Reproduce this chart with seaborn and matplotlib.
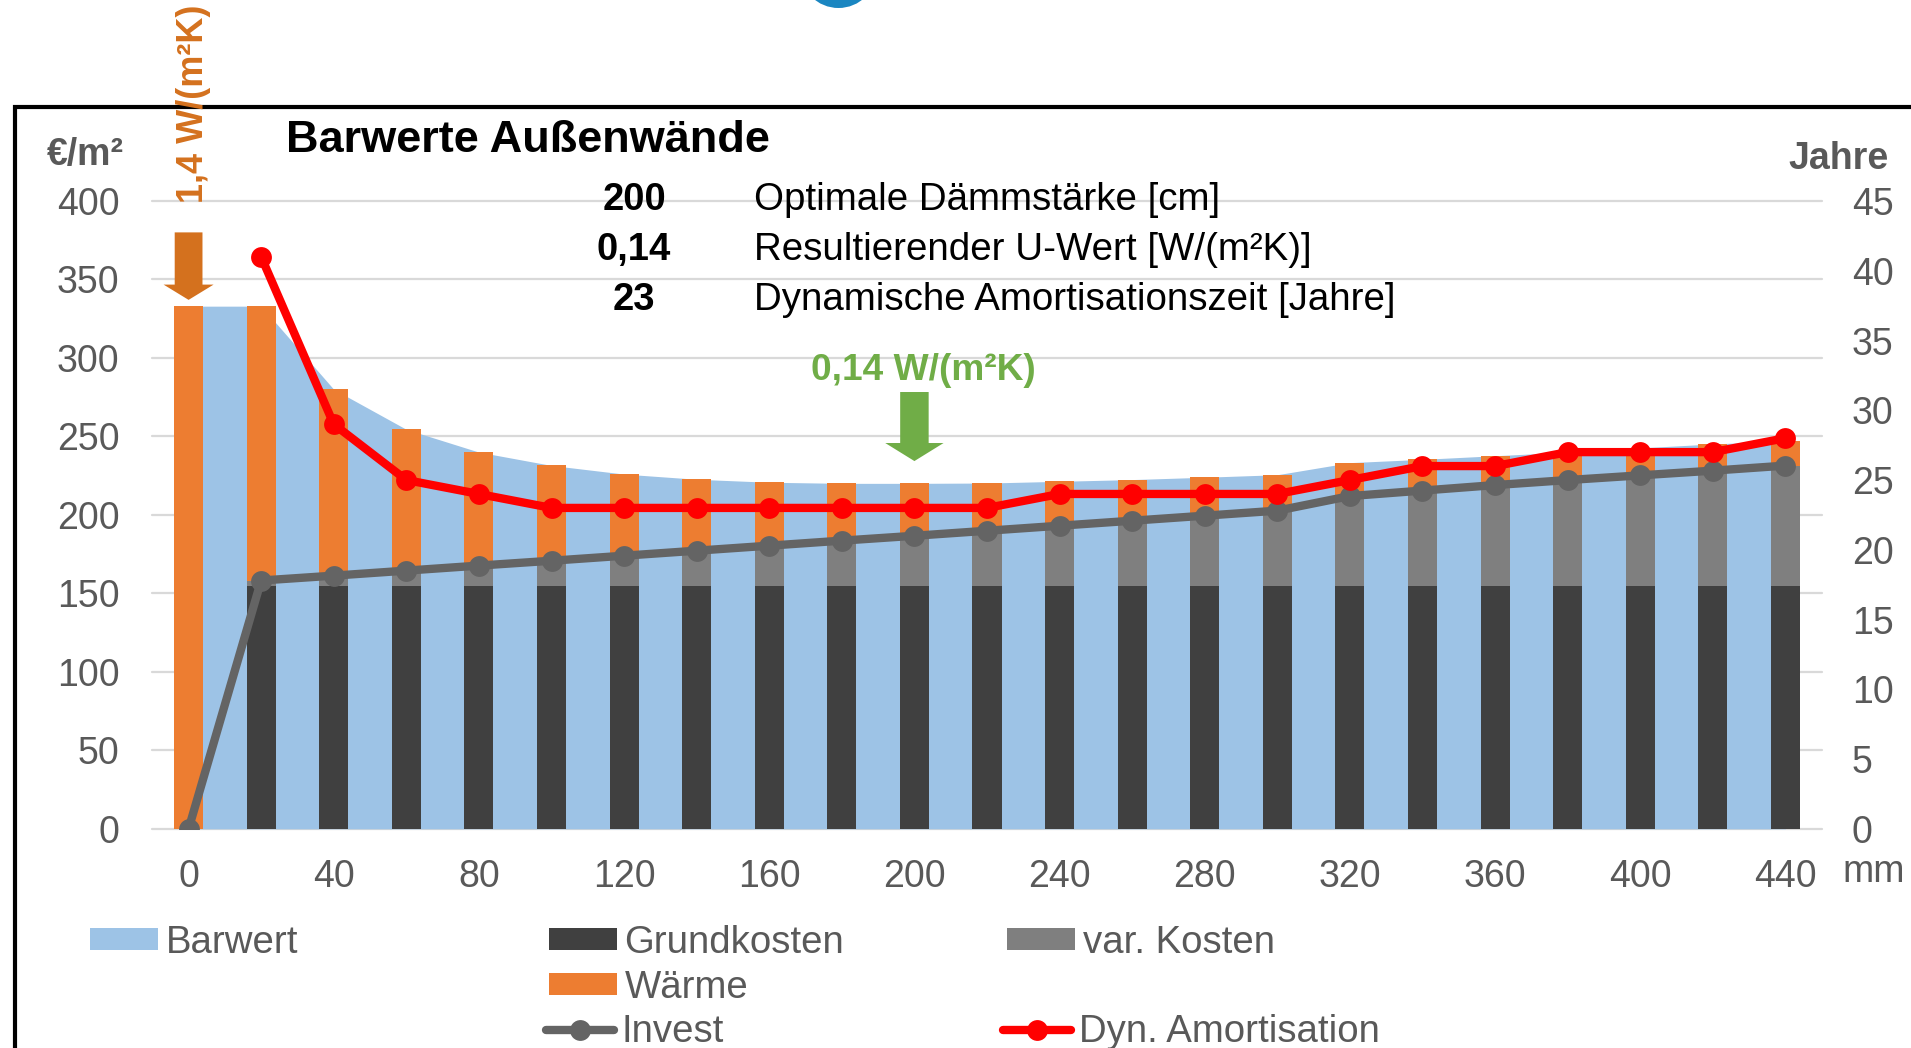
import numpy as np
import matplotlib
matplotlib.use("Agg")
import matplotlib.pyplot as plt
import seaborn as sns
from matplotlib.patches import Patch, Rectangle, Ellipse
from matplotlib.lines import Line2D

# Dämmstärke in mm
mm = [0, 20, 40, 60, 80, 100, 120, 140, 160, 180, 200, 220,
      240, 260, 280, 300, 320, 340, 360, 380, 400, 420, 440]
# Barwert = Grundkosten + var. Kosten + Wärme  [€/m²]
barwert = [333, 333, 280, 254.5, 240, 231.5, 226, 222.7, 220.8, 220.1, 220.1, 220.3,
           221.4, 222.5, 224, 225.6, 233.3, 235.4, 237.7, 240, 242.7, 245.2, 247.1]
# Invest = Grundkosten + var. Kosten  [€/m²]
invest = [0, 158.2, 161.3, 164.5, 167.7, 170.8, 174, 177.2, 180.4, 183.6, 186.7, 189.9,
          193.1, 196.3, 199.5, 202.7, 212, 215.5, 219, 222.2, 225.2, 228.2, 231.4]
grundkosten = [0] + [155] * 22
# dyn. Amortisation [Jahre], ab 20 mm
amort_mm = mm[1:]
amort = [41, 29, 25, 24, 23, 23, 23, 23, 23, 23, 23,
         24, 24, 24, 24, 25, 26, 26, 27, 27, 27, 28]

info_values = ["200", "0,14", "23"]
info_labels = ["Optimale Dämmstärke [cm]", "Resultierender U-Wert [W/(m²K)]",
               "Dynamische Amortisationszeit [Jahre]"]

c_blue = "#9DC3E6"
c_orange = "#ED7D31"
c_dark = "#404040"
c_var = "#7F7F7F"
c_invest = "#646464"
c_red = "#FF0000"
c_green = "#70AD47"
c_arrow_or = "#D4711E"
c_text = "#595959"

sns.set_style("white")
plt.rcParams["font.family"] = ["Liberation Sans", "DejaVu Sans"]

W, H = 1911, 1048
fig = plt.figure(figsize=(W / 100, H / 100), dpi=100)


def fx(x):
    return x / W


def fy(y):
    return 1 - y / H


ax = fig.add_axes([fx(152.3), fy(828.8), (1821.7 - 152.3) / W, (828.8 - 201) / H])
pos = np.arange(len(mm))

ax.fill_between(pos, barwert, color=c_blue, lw=0, zorder=1)
sns.barplot(x=mm, y=barwert, color=c_orange, width=0.4, saturation=1,
            errorbar=None, linewidth=0, ax=ax, zorder=2)
sns.barplot(x=mm, y=invest, color=c_var, width=0.4, saturation=1,
            errorbar=None, linewidth=0, ax=ax, zorder=2)
sns.barplot(x=mm, y=grundkosten, color=c_dark, width=0.4, saturation=1,
            errorbar=None, linewidth=0, ax=ax, zorder=2)
sns.lineplot(x=pos, y=invest, color=c_invest, linewidth=6, marker="o", markersize=15,
             markeredgewidth=0, ax=ax, zorder=3, legend=False)

ax.set_xlim(-0.5, 22.5)
ax.set_ylim(0, 400)
ax.set_yticks(range(0, 401, 50))
ax.set_xticks(pos[::2])
ax.set_xticklabels([str(m) for m in mm[::2]])
ax.set_xlabel("")
ax.set_ylabel("")
ax.grid(axis="y", color="#D9D9D9", lw=1.6)
ax.grid(axis="x", visible=False)
ax.set_axisbelow(True)
for gl in ax.get_ygridlines():
    gl.set_clip_on(False)
for s in ax.spines.values():
    s.set_visible(False)
ax.tick_params(axis="x", length=0, pad=22, labelsize=27, labelcolor=c_text)
ax.tick_params(axis="y", length=0, pad=23.5, labelsize=27, labelcolor=c_text)

ax2 = ax.twinx()
sns.lineplot(x=pos[1:], y=amort, color=c_red, linewidth=6, marker="o", markersize=15,
             markeredgewidth=0, ax=ax2, zorder=4, legend=False)
ax2.set_ylim(0, 45)
ax2.set_yticks(range(0, 46, 5))
ax2.set_ylabel("")
for s in ax2.spines.values():
    s.set_visible(False)
ax2.tick_params(axis="y", length=0, pad=21.6, labelsize=27, labelcolor=c_text)

# arrows
ax.annotate("", xy=(0, 337), xytext=(0, 380),
            arrowprops=dict(arrowstyle="simple,head_length=11,head_width=36,tail_width=20",
                            mutation_scale=1, color=c_arrow_or, lw=0, shrinkA=0, shrinkB=0),
            zorder=5)
ax.annotate("", xy=(10, 234.3), xytext=(10, 278.3),
            arrowprops=dict(arrowstyle="simple,head_length=13,head_width=42,tail_width=20.5",
                            mutation_scale=1, color=c_green, lw=0, shrinkA=0, shrinkB=0),
            zorder=5)

# texts
fig.text(fx(285.7), fy(152), "Barwerte Außenwände", fontsize=32.5, fontweight="bold",
         color="black", ha="left", va="baseline")
fig.text(fx(85), fy(165), "€/m²", fontsize=27, fontweight="bold", color=c_text,
         ha="center", va="baseline")
fig.text(fx(1839), fy(169), "Jahre", fontsize=27, fontweight="bold", color=c_text,
         ha="center", va="baseline")
fig.text(fx(1842), fy(882), "mm", fontsize=27, color=c_text, ha="left", va="baseline")
for i, yb in enumerate([210, 259.5, 310]):
    fig.text(fx(634), fy(yb), info_values[i], fontsize=27.5, fontweight="bold",
             color="black", ha="center", va="baseline")
    fig.text(fx(754), fy(yb), info_labels[i], fontsize=27.7, color="black",
             ha="left", va="baseline")
fig.text(fx(923.5), fy(380), "0,14 W/(m²K)", fontsize=26.7, fontweight="bold",
         color=c_green, ha="center", va="baseline")
fig.text(fx(203), fy(203), "1,4 W/(m²K)", fontsize=26, fontweight="bold",
         color=c_arrow_or, rotation=90, rotation_mode="anchor",
         ha="left", va="baseline")

# legend
items = [
    (Patch(color=c_blue, lw=0), "Barwert", 90, 943),
    (Patch(color=c_dark, lw=0), "Grundkosten", 549, 943),
    (Patch(color=c_var, lw=0), "var. Kosten", 1007, 943),
    (Patch(color=c_orange, lw=0), "Wärme", 549, 988),
    (Line2D([], [], color=c_invest, lw=6, marker="o", ms=15, mew=0), "Invest", 546, 1032),
    (Line2D([], [], color=c_red, lw=6, marker="o", ms=15, mew=0), "Dyn. Amortisation", 1003, 1032),
]
for h, lab, x, y in items:
    fig.legend([h], [lab], loc="center left", bbox_to_anchor=(fx(x), fy(y)),
               frameon=False, fontsize=27.6, labelcolor=c_text, borderpad=0,
               borderaxespad=0, handlelength=1.77, handleheight=0.5,
               handletextpad=0.2)

# chart frame and logo fragment
fig.add_artist(Rectangle((fx(15), -0.1), 1.2, fy(107) + 0.1, transform=fig.transFigure,
                         fill=False, edgecolor="black", lw=3, clip_on=False))
fig.add_artist(Ellipse((fx(838.5), fy(-30.5)), 77 / W, 77 / H,
                       transform=fig.transFigure, color="#1A86C1", lw=0))

fig.savefig("out.png", dpi=100)
